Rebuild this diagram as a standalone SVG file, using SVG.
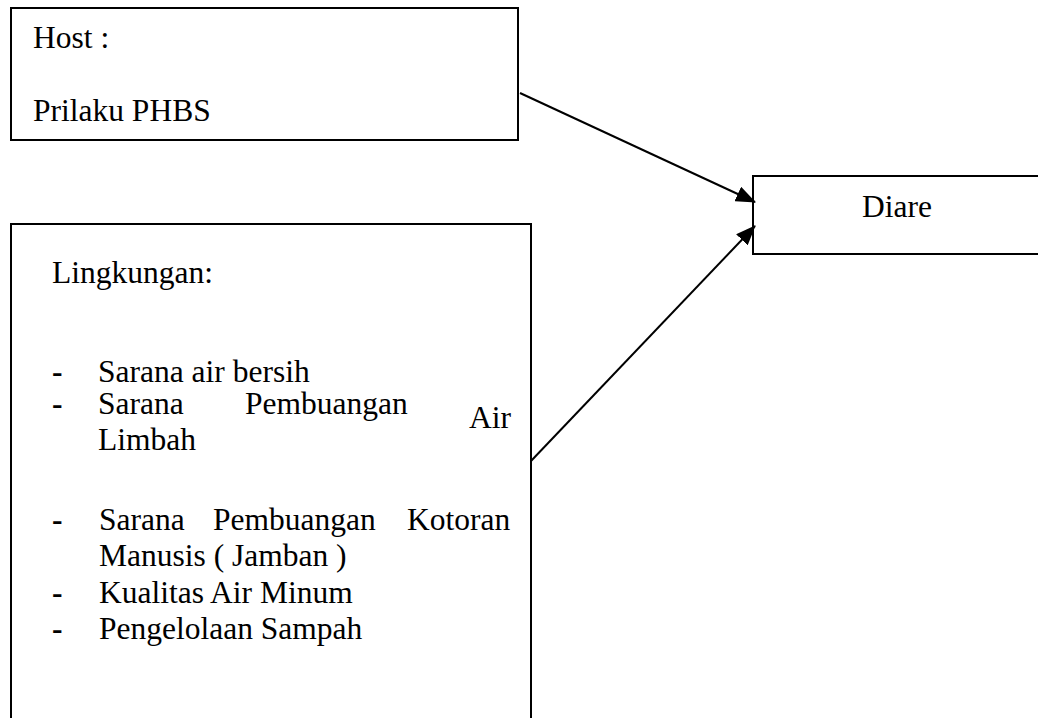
<svg xmlns="http://www.w3.org/2000/svg" width="1038" height="718" viewBox="0 0 1038 718">
<style>
.box{fill:#fff;stroke:#000;stroke-width:2}
.t{font-family:"Liberation Serif","Times New Roman",serif;font-size:31.5px;fill:#000}
.d{font-weight:bold}
.c{stroke:#000;stroke-width:2;fill:none}
</style>
<defs>
<marker id="ah" markerUnits="userSpaceOnUse" markerWidth="20" markerHeight="16" refX="19" refY="8" orient="auto">
<path d="M0,0 L20,8 L0,16 Z" fill="#000"/>
</marker>
</defs>
<rect width="1038" height="718" fill="#fff"/>
<g id="host">
<rect class="box" x="11" y="8" width="507" height="132"/>
<text class="t" x="33" y="48">Host :</text>
<text class="t" x="33" y="121">Prilaku PHBS</text>
</g>
<g id="lingkungan">
<rect class="box" x="11" y="224" width="520" height="520"/>
<text class="t" x="52" y="283">Lingkungan:</text>
<text class="t d" x="52" y="382">-</text>
<text class="t" x="98" y="382">Sarana air bersih</text>
<text class="t d" x="52" y="414">-</text>
<text class="t" x="98" y="414">Sarana</text>
<text class="t" x="245" y="414">Pembuangan</text>
<text class="t" x="469" y="428">Air</text>
<text class="t" x="98" y="450">Limbah</text>
<text class="t d" x="52" y="530">-</text>
<text class="t" x="99" y="530">Sarana</text>
<text class="t" x="213" y="530">Pembuangan</text>
<text class="t" x="407" y="530">Kotoran</text>
<text class="t" x="99" y="566">Manusis ( Jamban )</text>
<text class="t d" x="52" y="603">-</text>
<text class="t" x="99" y="603">Kualitas Air Minum</text>
<text class="t d" x="52" y="639">-</text>
<text class="t" x="99" y="639">Pengelolaan Sampah</text>
</g>
<g id="diare">
<rect class="box" x="753" y="176" width="300" height="78"/>
<text class="t" x="862" y="217">Diare</text>
</g>
<g id="connectors">
<line class="c" x1="520" y1="93" x2="755" y2="202" marker-end="url(#ah)"/>
<line class="c" x1="531" y1="461" x2="755" y2="226" marker-end="url(#ah)"/>
</g>
</svg>
